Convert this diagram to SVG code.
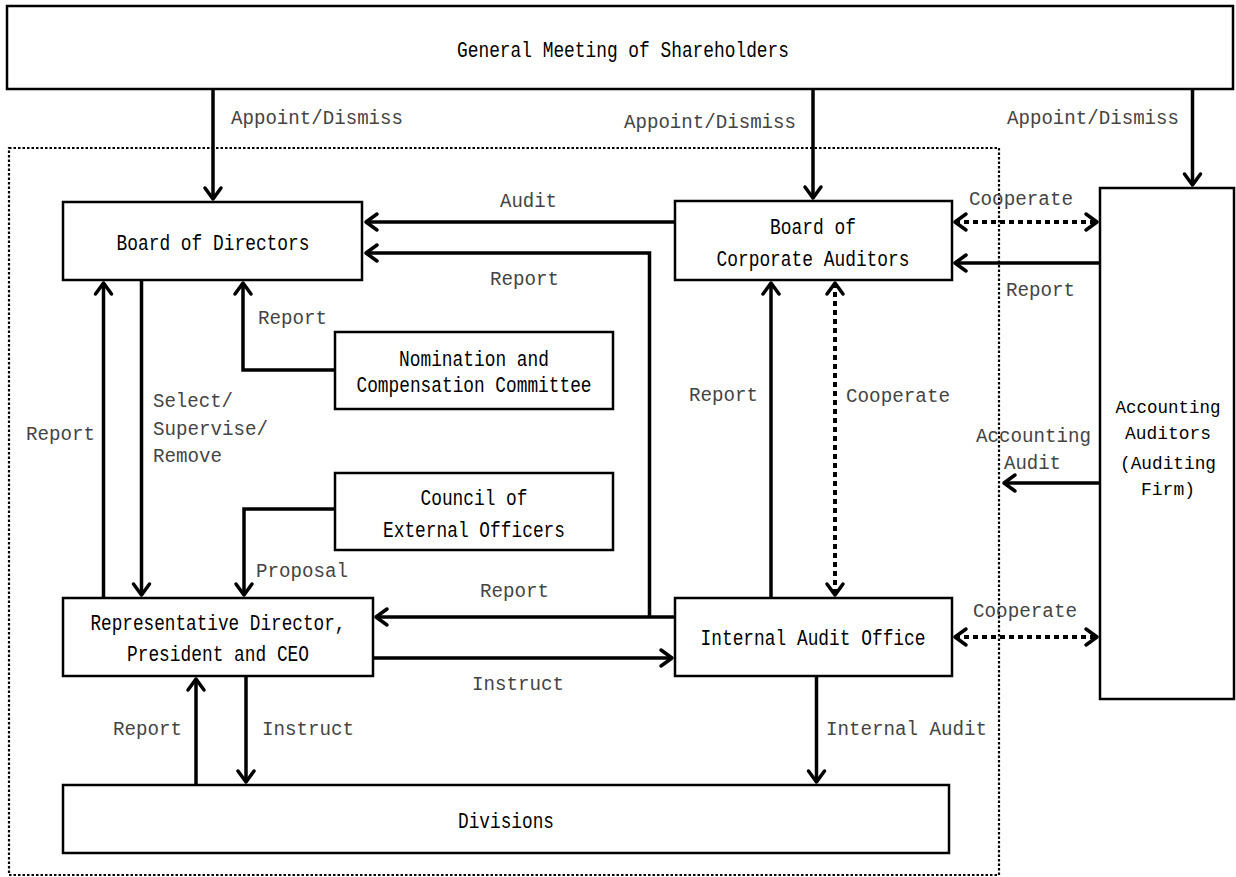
<svg xmlns="http://www.w3.org/2000/svg" width="1236" height="877" viewBox="0 0 1236 877">
<style>
.box{fill:#fff;stroke:#000;stroke-width:2.5}
.nt{font-family:"Liberation Mono",monospace;font-size:22px;fill:#000;text-anchor:middle}
.nts{font-size:19px}
.lb{font-family:"Liberation Mono",monospace;font-size:20px;fill:#444}
.c{fill:none;stroke:#000;stroke-width:3.5}
.d{fill:none;stroke:#000;stroke-width:4;stroke-dasharray:5 4}
.frame{fill:none;stroke:#000;stroke-width:2.2;stroke-dasharray:2.5 2}
</style>
<defs>
<marker id="ah" markerUnits="userSpaceOnUse" orient="auto-start-reverse" markerWidth="30" markerHeight="30" refX="0" refY="0" viewBox="-15 -15 30 30" overflow="visible">
<path d="M-11,-8 L0,0 L-11,8" fill="none" stroke="#000" stroke-width="3.5" stroke-linecap="round" stroke-linejoin="round"/>
</marker>
</defs>
<rect width="1236" height="877" fill="#fff"/>
<rect id="container" class="frame" x="9" y="148" width="990" height="727"/>

<g id="gm"><rect class="box" x="7" y="6" width="1226" height="83"/><text class="nt" x="623" y="57" textLength="332" lengthAdjust="spacingAndGlyphs">General Meeting of Shareholders</text></g>
<g id="bod"><rect class="box" x="63" y="202" width="299" height="78"/><text class="nt" x="213" y="250" textLength="193" lengthAdjust="spacingAndGlyphs">Board of Directors</text></g>
<g id="bca"><rect class="box" x="675" y="201" width="277" height="79"/><text class="nt" x="813" y="234" textLength="86" lengthAdjust="spacingAndGlyphs">Board of</text><text class="nt" x="813" y="266" textLength="193" lengthAdjust="spacingAndGlyphs">Corporate Auditors</text></g>
<g id="ncc"><rect class="box" x="335" y="332" width="278" height="77"/><text class="nt" x="474" y="366" textLength="150" lengthAdjust="spacingAndGlyphs">Nomination and</text><text class="nt" x="474" y="392" textLength="235" lengthAdjust="spacingAndGlyphs">Compensation Committee</text></g>
<g id="council"><rect class="box" x="335" y="473" width="278" height="77"/><text class="nt" x="474" y="505" textLength="107" lengthAdjust="spacingAndGlyphs">Council of</text><text class="nt" x="474" y="537" textLength="182" lengthAdjust="spacingAndGlyphs">External Officers</text></g>
<g id="ceo"><rect class="box" x="63" y="598" width="310" height="78"/><text class="nt" x="218" y="630" textLength="255" lengthAdjust="spacingAndGlyphs">Representative Director,</text><text class="nt" x="218" y="661" textLength="182" lengthAdjust="spacingAndGlyphs">President and CEO</text></g>
<g id="iao"><rect class="box" x="675" y="598" width="277" height="78"/><text class="nt" x="813" y="645" textLength="225" lengthAdjust="spacingAndGlyphs">Internal Audit Office</text></g>
<g id="div"><rect class="box" x="63" y="785" width="886" height="68"/><text class="nt" x="506" y="828" textLength="96" lengthAdjust="spacingAndGlyphs">Divisions</text></g>
<g id="aa"><rect class="box" x="1100" y="188" width="134" height="511"/><text class="nt nts" x="1168" y="413" textLength="105" lengthAdjust="spacingAndGlyphs">Accounting</text><text class="nt nts" x="1168" y="439" textLength="86" lengthAdjust="spacingAndGlyphs">Auditors</text><text class="nt nts" x="1168" y="469" textLength="96" lengthAdjust="spacingAndGlyphs">(Auditing</text><text class="nt nts" x="1168" y="495" textLength="54" lengthAdjust="spacingAndGlyphs">Firm)</text></g>

<g id="connectors">
<path class="c" d="M213,89 L213,199" marker-end="url(#ah)"/>
<path class="c" d="M813,89 L813,198" marker-end="url(#ah)"/>
<path class="c" d="M1192.5,89 L1192.5,185" marker-end="url(#ah)"/>
<path class="c" d="M675,222 L366,222" marker-end="url(#ah)"/>
<path class="c" d="M649.5,617 L649.5,253 L366,253" marker-end="url(#ah)"/>
<path class="c" d="M675,617 L376,617" marker-end="url(#ah)"/>
<path class="c" d="M373,658 L672,658" marker-end="url(#ah)"/>
<path class="c" d="M335,370 L243,370 L243,283" marker-end="url(#ah)"/>
<path class="c" d="M103.5,598 L103.5,283" marker-end="url(#ah)"/>
<path class="c" d="M141.5,280 L141.5,595" marker-end="url(#ah)"/>
<path class="c" d="M335,509 L244,509 L244,595" marker-end="url(#ah)"/>
<path class="c" d="M196,785 L196,679" marker-end="url(#ah)"/>
<path class="c" d="M246,676 L246,782" marker-end="url(#ah)"/>
<path class="c" d="M816.5,676 L816.5,782" marker-end="url(#ah)"/>
<path class="c" d="M771,598 L771,283" marker-end="url(#ah)"/>
<path class="d" d="M835,283 L835,595" marker-start="url(#ah)" marker-end="url(#ah)"/>
<path class="d" d="M955,222 L1097,222" marker-start="url(#ah)" marker-end="url(#ah)"/>
<path class="c" d="M1100,263 L955,263" marker-end="url(#ah)"/>
<path class="c" d="M1100,483 L1004,483" marker-end="url(#ah)"/>
<path class="d" d="M955,637 L1097,637" marker-start="url(#ah)" marker-end="url(#ah)"/>
</g>

<g id="labels">
<text class="lb" x="231" y="124" textLength="172" lengthAdjust="spacingAndGlyphs">Appoint/Dismiss</text>
<text class="lb" x="624" y="128" textLength="172" lengthAdjust="spacingAndGlyphs">Appoint/Dismiss</text>
<text class="lb" x="1007" y="124" textLength="172" lengthAdjust="spacingAndGlyphs">Appoint/Dismiss</text>
<text class="lb" x="500" y="207" textLength="57" lengthAdjust="spacingAndGlyphs">Audit</text>
<text class="lb" x="490" y="285" textLength="69" lengthAdjust="spacingAndGlyphs">Report</text>
<text class="lb" x="258" y="324" textLength="69" lengthAdjust="spacingAndGlyphs">Report</text>
<text class="lb" x="26" y="440" textLength="69" lengthAdjust="spacingAndGlyphs">Report</text>
<text class="lb" x="153" y="407" textLength="80" lengthAdjust="spacingAndGlyphs">Select/</text>
<text class="lb" x="153" y="435" textLength="115" lengthAdjust="spacingAndGlyphs">Supervise/</text>
<text class="lb" x="153" y="462" textLength="69" lengthAdjust="spacingAndGlyphs">Remove</text>
<text class="lb" x="256" y="577" textLength="92" lengthAdjust="spacingAndGlyphs">Proposal</text>
<text class="lb" x="480" y="597" textLength="69" lengthAdjust="spacingAndGlyphs">Report</text>
<text class="lb" x="472" y="690" textLength="92" lengthAdjust="spacingAndGlyphs">Instruct</text>
<text class="lb" x="113" y="735" textLength="69" lengthAdjust="spacingAndGlyphs">Report</text>
<text class="lb" x="262" y="735" textLength="92" lengthAdjust="spacingAndGlyphs">Instruct</text>
<text class="lb" x="826" y="735" textLength="161" lengthAdjust="spacingAndGlyphs">Internal Audit</text>
<text class="lb" x="689" y="401" textLength="69" lengthAdjust="spacingAndGlyphs">Report</text>
<text class="lb" x="846" y="402" textLength="104" lengthAdjust="spacingAndGlyphs">Cooperate</text>
<text class="lb" x="969" y="205" textLength="104" lengthAdjust="spacingAndGlyphs">Cooperate</text>
<text class="lb" x="1006" y="296" textLength="69" lengthAdjust="spacingAndGlyphs">Report</text>
<text class="lb" x="976" y="442" textLength="115" lengthAdjust="spacingAndGlyphs">Accounting</text>
<text class="lb" x="1004" y="469" textLength="57" lengthAdjust="spacingAndGlyphs">Audit</text>
<text class="lb" x="973" y="617" textLength="104" lengthAdjust="spacingAndGlyphs">Cooperate</text>
</g>
</svg>
